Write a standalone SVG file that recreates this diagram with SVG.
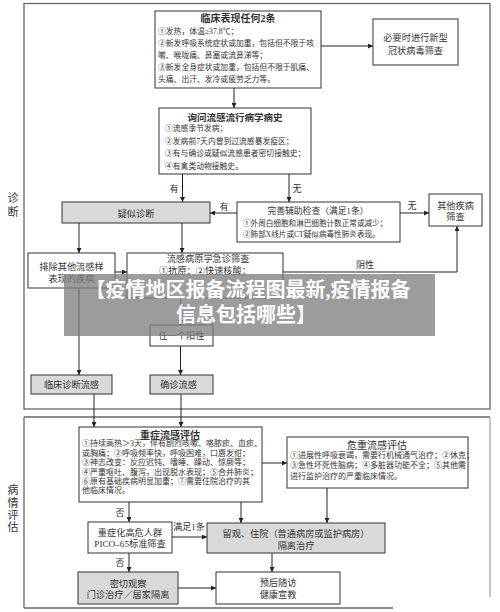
<svg xmlns="http://www.w3.org/2000/svg" width="500" height="612" viewBox="0 0 500 612">
<defs>
<marker id="ah" viewBox="0 0 10 10" refX="10" refY="5" markerWidth="5" markerHeight="5" orient="auto" markerUnits="userSpaceOnUse">
<path d="M0,0 L10,5 L0,10 z" fill="#222"/>
</marker>
<style>
text{font-family:"Liberation Serif","Noto Sans CJK SC",serif;fill:#333}
.b{fill:#fff;stroke:#333;stroke-width:1}
.g{fill:#d9d9d9;stroke:#333;stroke-width:1}
.t{font-size:9.2px;text-anchor:middle}
.h{font-size:10px;text-anchor:middle;font-weight:bold}
.s{font-size:7.8px}
.l{font-size:9px;text-anchor:middle}
.side{font-size:11px;text-anchor:middle}
.c line,.c polyline{stroke:#222;stroke-width:1;fill:none}
.frame{fill:none;stroke:#666;stroke-width:1.3}
.ov{font-size:20px;font-weight:bold;fill:#fff;text-anchor:middle}
</style>
</defs>
<rect width="500" height="612" fill="#fff"/>

<g id="frames">
<rect class="frame" x="24" y="3.5" width="466" height="405.5"/>
<line class="frame" x1="24" y1="417" x2="490" y2="417"/>
<line class="frame" x1="24" y1="417" x2="24" y2="608"/>
<line class="frame" x1="24" y1="608" x2="393" y2="608"/>
<line x1="490" y1="417" x2="490" y2="597" stroke="#aaa" stroke-width="1.3"/>
<text class="side" x="13" y="201.5">诊</text>
<text class="side" x="13" y="215.5">断</text>
<text class="side" x="13" y="494">病</text>
<text class="side" x="13" y="506.5">情</text>
<text class="side" x="13" y="519">评</text>
<text class="side" x="13" y="531">估</text>
</g>

<g class="c" id="connectors">
<line x1="321" y1="46" x2="373" y2="46" marker-end="url(#ah)"/>
<line x1="234" y1="88" x2="234" y2="108" marker-end="url(#ah)"/>
<line x1="182.5" y1="174" x2="182.5" y2="202" marker-end="url(#ah)"/>
<line x1="289" y1="174" x2="289" y2="202" marker-end="url(#ah)"/>
<line x1="237" y1="213" x2="210" y2="213" marker-end="url(#ah)"/>
<line x1="400" y1="213" x2="429" y2="213" marker-end="url(#ah)"/>
<line x1="79" y1="223" x2="79" y2="253" marker-end="url(#ah)"/>
<line x1="182" y1="223" x2="182" y2="253" marker-end="url(#ah)"/>
<line x1="115" y1="272" x2="127" y2="272" marker-end="url(#ah)"/>
<polyline points="283,272 457,272 457,226" marker-end="url(#ah)"/>
<line x1="79" y1="288" x2="79" y2="375" marker-end="url(#ah)"/>
<line x1="180.5" y1="298" x2="180.5" y2="325" marker-end="url(#ah)"/>
<line x1="180.5" y1="346" x2="180.5" y2="375" marker-end="url(#ah)"/>
<line x1="94" y1="394" x2="94" y2="427" marker-end="url(#ah)"/>
<line x1="181" y1="394" x2="181" y2="427" marker-end="url(#ah)"/>
<line x1="262" y1="463" x2="287" y2="463" marker-end="url(#ah)"/>
<line x1="129" y1="502" x2="129" y2="522" marker-end="url(#ah)"/>
<line x1="241" y1="502" x2="241" y2="523" marker-end="url(#ah)"/>
<line x1="327" y1="488" x2="327" y2="523" marker-end="url(#ah)"/>
<line x1="172" y1="537" x2="207" y2="537" marker-end="url(#ah)"/>
<line x1="129" y1="553" x2="129" y2="572" marker-end="url(#ah)"/>
<line x1="272" y1="553" x2="272" y2="572" marker-end="url(#ah)"/>
<line x1="178" y1="588" x2="216" y2="588" marker-end="url(#ah)"/>
<text class="l" x="174" y="191.5">有</text>
<text class="l" x="297" y="191.5">无</text>
<text class="l" x="224" y="210">有</text>
<text class="l" x="412" y="208.5">无</text>
<text class="l" x="365" y="268">阴性</text>
<text class="l" x="120" y="516">否</text>
<text class="l" x="120" y="566">否</text>
<text class="l" x="189" y="530">满足1条</text>
</g>

<g id="clinical">
<rect class="b" x="155" y="11" width="166" height="77"/>
<text class="h" x="238" y="21.5">临床表现任何2条</text>
<text class="s" x="158" y="34">①发热，体温≥37.8℃；</text>
<text class="s" x="158" y="46">②新发呼吸系统症状或加重，包括但不限于咳</text>
<text class="s" x="158" y="58">嗽、喉咙痛、鼻塞或流鼻涕等；</text>
<text class="s" x="158" y="70">③新发全身症状或加重，包括但不限于肌痛、</text>
<text class="s" x="158" y="82">头痛、出汗、发冷或疲劳乏力等。</text>
</g>

<g id="covid">
<rect class="b" x="373" y="19" width="85" height="46"/>
<text class="t" x="415.5" y="40.5">必要时进行新型</text>
<text class="t" x="415.5" y="53.5">冠状病毒筛查</text>
</g>

<g id="history">
<rect class="b" x="159" y="108" width="152" height="66"/>
<text class="h" x="235" y="120.5" style="font-size:9.5px">询问流感流行病学病史</text>
<text class="s" x="165" y="131">①流感季节发病；</text>
<text class="s" x="165" y="144">②发病前7天内曾到过流感暴发疫区；</text>
<text class="s" x="165" y="156">③有与确诊或疑似流感患者密切接触史；</text>
<text class="s" x="165" y="169">④有禽类动物接触史。</text>
</g>

<g id="suspect">
<rect class="g" x="62" y="202" width="148" height="21"/>
<text class="t" x="136" y="216.5">疑似诊断</text>
</g>

<g id="aux">
<rect class="b" x="237" y="202" width="163" height="40"/>
<text class="t" x="318" y="213.5" style="font-size:8.8px">完善辅助检查（满足1条）</text>
<text class="s" x="243" y="226" style="font-size:7.6px">①外周白细胞和淋巴细胞计数正常或减少；</text>
<text class="s" x="243" y="236.5" style="font-size:7.6px">②肺部X线片或CT疑似病毒性肺炎表现。</text>
</g>

<g id="other">
<rect class="b" x="429" y="194" width="53" height="32"/>
<text class="t" x="455.5" y="208.5">其他疾病</text>
<text class="t" x="455.5" y="220">筛查</text>
</g>

<g id="exclude">
<rect class="b" x="28" y="253" width="87" height="35"/>
<text class="t" x="71.5" y="269.5">排除其他流感样</text>
<text class="t" x="71.5" y="281.5">表现的疾病</text>
</g>

<g id="pathogen">
<rect class="b" x="127" y="253" width="156" height="45"/>
<text class="t" x="208" y="261.5">流感病原学急诊筛查</text>
<text class="t" x="205" y="273.5">①抗原；②快速核酸；</text>
</g>

<g id="positive">
<rect class="b" x="150" y="325" width="63" height="21"/>
<text class="t" x="181.5" y="339">任一个阳性</text>
</g>

<g id="clinical-flu">
<rect class="g" x="31" y="375" width="81" height="19"/>
<text class="t" x="71.5" y="388">临床诊断流感</text>
</g>

<g id="confirmed">
<rect class="g" x="150" y="375" width="63" height="19"/>
<text class="t" x="178.5" y="388">确诊流感</text>
</g>

<g id="severe">
<rect class="b" x="79" y="427" width="183" height="75"/>
<text class="h" x="170" y="438.5">重症流感评估</text>
<text class="s" x="82" y="446.3" style="font-size:8px">①持续高热＞3天，伴有剧烈咳嗽、咯脓痰、血痰、</text>
<text class="s" x="82" y="455.7" style="font-size:8px">或胸痛；②呼吸频率快，呼吸困难，口唇发绀；</text>
<text class="s" x="82" y="465.3" style="font-size:8px">③神志改变：反应迟钝、嗜睡、躁动、惊厥等；</text>
<text class="s" x="82" y="474.7" style="font-size:8px">④严重呕吐、腹泻，出现脱水表现；⑤合并肺炎；</text>
<text class="s" x="82" y="484" style="font-size:8px">⑥原有基础疾病明显加重；⑦需要住院治疗的其</text>
<text class="s" x="82" y="493" style="font-size:8px">他临床情况。</text>
</g>

<g id="critical">
<rect class="b" x="287" y="437" width="181" height="51"/>
<text class="t" x="377" y="448.5" style="font-size:10px">危重流感评估</text>
<text class="s" x="290" y="457.5" style="font-size:8px">①进展性呼吸衰竭，需要行机械通气治疗；②休克；</text>
<text class="s" x="290" y="468" style="font-size:8px">③急性坏死性脑病；④多脏器功能不全；⑤其他需</text>
<text class="s" x="290" y="478.5" style="font-size:8px">进行监护治疗的严重临床情况。</text>
</g>

<g id="pico">
<rect class="b" x="88" y="522" width="84" height="31"/>
<text class="t" x="130" y="535.5">重症化高危人群</text>
<text class="t" x="130" y="546.5">PICO–65标准筛查</text>
</g>

<g id="hosp">
<rect class="g" x="207" y="523" width="178" height="30"/>
<text class="t" x="296" y="536.5">留观、住院（普通病房或监护病房）</text>
<text class="t" x="296" y="548.5">隔离治疗</text>
</g>

<g id="observe">
<rect class="g" x="78" y="572" width="100" height="32"/>
<text class="t" x="128" y="586.5">密切观察</text>
<text class="t" x="128" y="597.5">门诊治疗／居家隔离</text>
</g>

<g id="followup">
<rect class="b" x="216" y="572" width="124" height="32"/>
<text class="t" x="278" y="586">预后随访</text>
<text class="t" x="278" y="597.5">健康宣教</text>
</g>

<g id="overlay">
<rect x="64" y="274" width="371" height="62" fill="#808080" fill-opacity="0.78"/>
<text class="ov" x="248" y="297">【疫情地区报备流程图最新,疫情报备</text>
<text class="ov" x="246" y="322">信息包括哪些】</text>
</g>
</svg>
